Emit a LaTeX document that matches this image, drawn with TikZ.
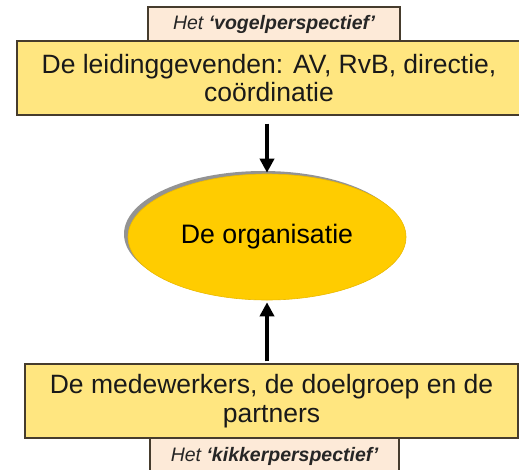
\documentclass[tikz,border=0pt]{standalone}
\usepackage{fontspec}
\setmainfont{Liberation Sans}
\usetikzlibrary{arrows.meta,shapes.geometric,shadows}
\definecolor{boxfill}{RGB}{255,230,128}
\definecolor{labelfill}{RGB}{253,234,216}
\definecolor{ellfill}{RGB}{255,204,0}
\definecolor{elledge}{RGB}{235,185,0}
\definecolor{edge}{RGB}{70,60,45}
\definecolor{shadowgray}{RGB}{120,120,120}
\tikzset{
  mainbox/.style={draw=edge, line width=1.4pt, fill=boxfill, inner sep=0pt,
    align=center, font=\fontsize{26.5}{28.5}\selectfont, text=black!90},
  labelbox/.style={draw=edge, line width=1.2pt, fill=labelfill, inner sep=0pt,
    font=\fontsize{19.5}{21}\selectfont\itshape, text=black!85},
  orgell/.style={ellipse, draw=elledge, line width=0.6pt, fill=ellfill, inner sep=0pt,
    minimum width=278pt, minimum height=126pt, font=\fontsize{26.7}{28}\selectfont,
    drop shadow={shadow xshift=-4pt, shadow yshift=3pt, fill=shadowgray, opacity=0.8}},
  bigarrow/.style={line width=3.6pt, -{Triangle[width=14pt,length=14pt]}, black}
}
\begin{document}
\begin{tikzpicture}[x=1pt,y=-1pt]
\useasboundingbox (0,0) rectangle (519,469);
% labels
\node[labelbox, minimum width=252pt, minimum height=34pt] (toplab) at (274,24) {Het \textbf{‘vogelperspectief’}};
\node[labelbox, minimum width=249pt, minimum height=36pt] (botlab) at (274.5,456) {Het \textbf{‘kikkerperspectief’}};
% main boxes
\node[mainbox, minimum width=504pt, minimum height=74pt] (topbox) at (269,78) {De leidinggevenden: AV, RvB, directie,\\ coördinatie};
\node[mainbox, minimum width=493pt, minimum height=74pt] (botbox) at (271.5,401) {De medewerkers, de doelgroep en de\\ partners};
% ellipse
\node[orgell] (org) at (267,237) {De organisatie};
% arrows
\draw[bigarrow] ([yshift=-8pt]topbox.south -| org.north) -- ([yshift=1pt]org.north);
\draw[bigarrow] ([yshift=2pt]botbox.north -| org.south) -- ([yshift=-2pt]org.south);
\end{tikzpicture}
\end{document}
